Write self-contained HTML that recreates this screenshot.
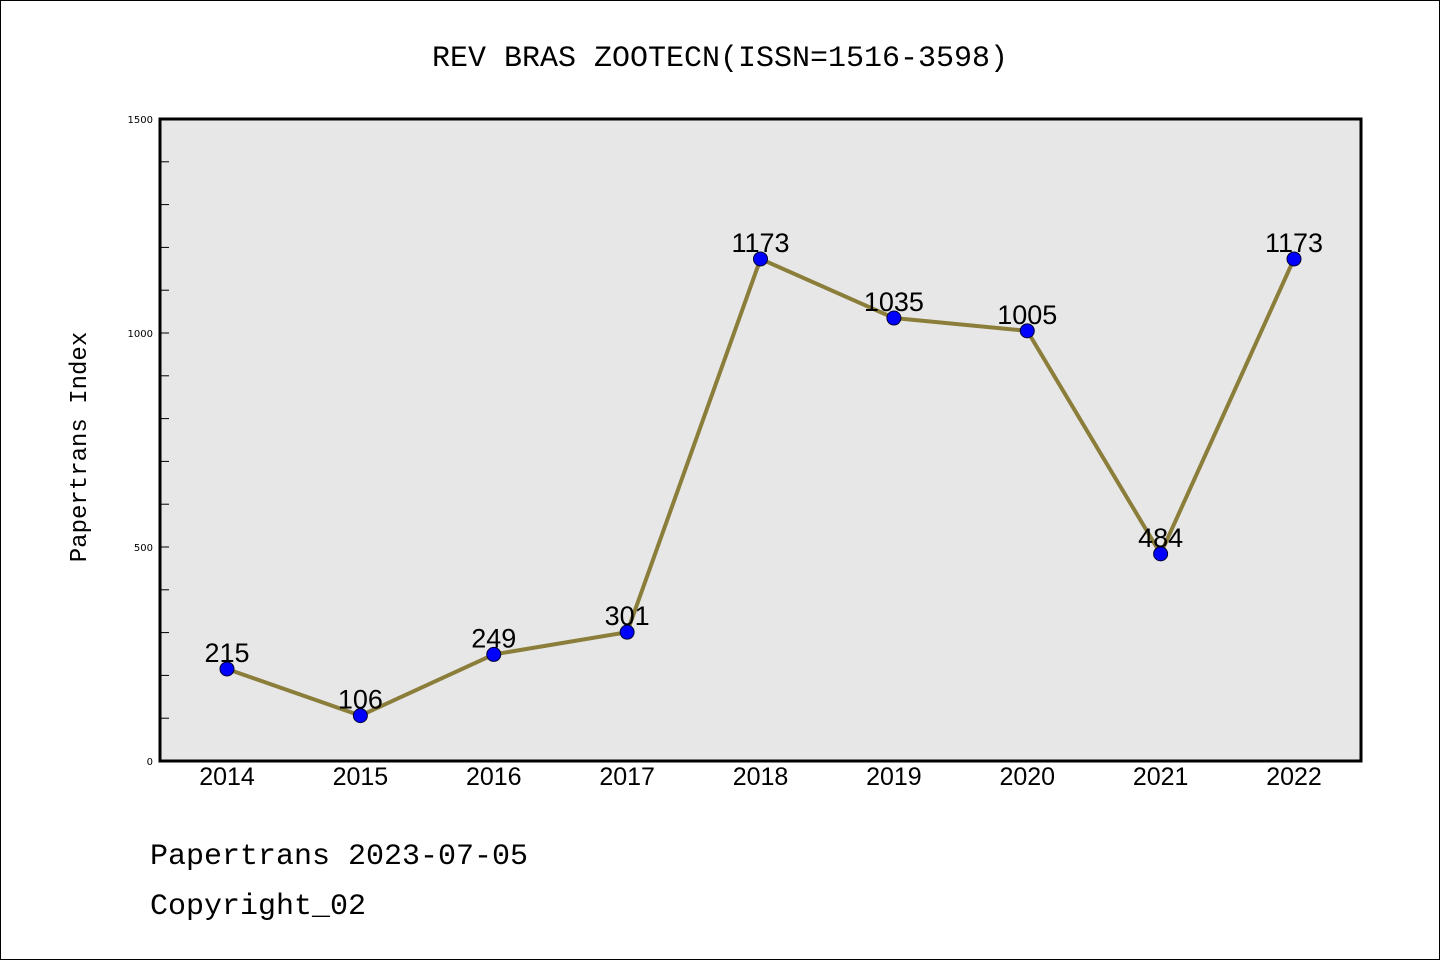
<!DOCTYPE html>
<html><head><meta charset="utf-8"><style>
html,body{margin:0;padding:0;background:#fff}
svg{display:block}
</style></head><body>
<svg id="chart" width="1440" height="960" xmlns="http://www.w3.org/2000/svg">
<rect x="0.5" y="0.5" width="1439" height="959" fill="#fff" stroke="#000" stroke-width="1"/>
<text x="720" y="66" text-anchor="middle" font-family="Liberation Mono, monospace" font-size="30" fill="#000">REV BRAS ZOOTECN(ISSN=1516-3598)</text>
<rect x="160" y="119" width="1201" height="642" fill="#e7e7e7"/>
<g id="yticks"></g>
<g id="xticks"></g>
<g id="series"></g>
<rect x="160" y="119" width="1201" height="642" fill="none" stroke="#000" stroke-width="3"/>
<text transform="translate(86,447) rotate(-90)" text-anchor="middle" font-family="Liberation Mono, monospace" font-size="24" fill="#000">Papertrans Index</text>
<text x="150" y="864" font-family="Liberation Mono, monospace" font-size="30" fill="#000">Papertrans 2023-07-05</text>
<text x="150" y="914" font-family="Liberation Mono, monospace" font-size="30" fill="#000">Copyright_02</text>
</svg>
<script>
const categories = ["2014","2015","2016","2017","2018","2019","2020","2021","2022"];
const values = [215,106,249,301,1173,1035,1005,484,1173];
const yTickLabels = ["0","500","1000","1500"];
const yMax = 1500;
const NS = "http://www.w3.org/2000/svg";
const x0 = 227, x1 = 1294, yTop = 119, yBot = 761;
function xs(i){ return x0 + (x1 - x0) * i / (categories.length - 1); }
function ys(v){ return yBot - (yBot - yTop) * v / yMax; }
function mk(tag, attrs, parent){ const e = document.createElementNS(NS, tag); for (const k in attrs) e.setAttribute(k, attrs[k]); parent.appendChild(e); return e; }
const yg = document.getElementById('yticks');
for (let v = 0; v <= yMax; v += 100) {
  const t = mk('line', {x1:160, x2:169, y1:ys(v), y2:ys(v), stroke:'#000', 'stroke-width':1}, yg);
  
  
}
yTickLabels.forEach(s => {
  const t = mk('text', {x:153, y:ys(+s)+4, 'text-anchor':'end', 'font-family':'DejaVu Sans, sans-serif', 'font-size':10, fill:'#000'}, yg);
  t.textContent = s;
  
  
});
const xg = document.getElementById('xticks');
categories.forEach((c, i) => {
  const t = mk('text', {x:xs(i), y:785, 'text-anchor':'middle', 'font-family':'Liberation Sans, sans-serif', 'font-size':25, fill:'#000'}, xg);
  t.textContent = c;
  
  
});
const sg = document.getElementById('series');
const pts = values.map((v, i) => xs(i) + ',' + ys(v)).join(' ');
const pl = mk('polyline', {points:pts, fill:'none', stroke:'#8b7d3a', 'stroke-width':4, 'stroke-linejoin':'round'}, sg);


values.forEach((v, i) => {
  const c = mk('circle', {cx:xs(i), cy:ys(v), r:7, fill:'#0000ff', stroke:'#000033', 'stroke-width':1}, sg);
  
  
  const t = mk('text', {x:xs(i), y:ys(v)-7, 'text-anchor':'middle', 'font-family':'Liberation Sans, sans-serif', 'font-size':27, fill:'#000'}, sg);
  t.textContent = v;
  
  
});
</script>
</body></html>
